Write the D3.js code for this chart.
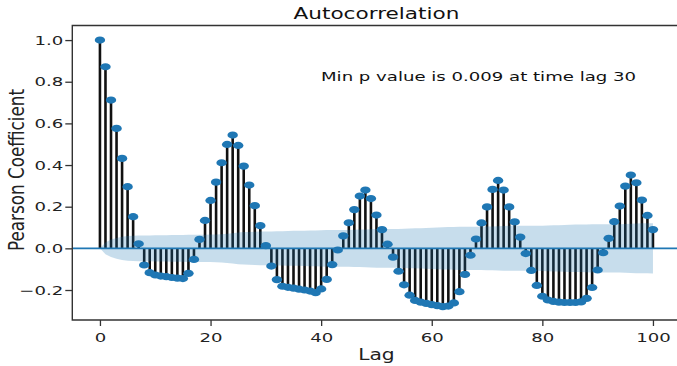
<!DOCTYPE html>
<html>
<head>
<meta charset="utf-8">
<script src="https://cdn.jsdelivr.net/npm/d3@7"></script>
<style>
  html, body { margin: 0; padding: 0; background: #fff; }
  svg { display: block; font-family: "DejaVu Sans", sans-serif; }
</style>
</head>
<body>
<svg id="chart" width="677" height="366"></svg>
<script>
// Autocorrelation coefficients for lags 0..100
const lags = d3.range(0, 101);
const acf = [
  1.0, 0.872, 0.712, 0.576, 0.432, 0.296, 0.152, 0.022, -0.08, -0.117,
  -0.128, -0.133, -0.136, -0.14, -0.143, -0.145, -0.12, -0.053, 0.043, 0.134,
  0.23, 0.318, 0.411, 0.499, 0.544, 0.494, 0.395, 0.304, 0.205, 0.109,
  0.013, -0.085, -0.15, -0.182, -0.187, -0.191, -0.196, -0.2, -0.205, -0.213,
  -0.195, -0.149, -0.078, -0.008, 0.06, 0.123, 0.186, 0.251, 0.28, 0.239,
  0.16, 0.09, 0.02, -0.042, -0.11, -0.175, -0.225, -0.25, -0.258, -0.264,
  -0.27, -0.275, -0.28, -0.277, -0.262, -0.208, -0.125, -0.033, 0.045, 0.122,
  0.199, 0.283, 0.326, 0.28, 0.199, 0.127, 0.054, -0.025, -0.106, -0.178,
  -0.23, -0.248, -0.255, -0.258, -0.26, -0.26, -0.26, -0.257, -0.24, -0.188,
  -0.104, -0.021, 0.048, 0.128, 0.203, 0.299, 0.352, 0.315, 0.232, 0.158,
  0.09
];
// Half-width of the 95% confidence band around zero, per lag
const confHalf = [
  0, 0.028, 0.042, 0.05, 0.056, 0.059, 0.061, 0.062, 0.062, 0.062,
  0.063, 0.063, 0.063, 0.064, 0.064, 0.064, 0.065, 0.065, 0.065, 0.065,
  0.066, 0.067, 0.068, 0.07, 0.073, 0.076, 0.078, 0.079, 0.08, 0.081,
  0.081, 0.081, 0.082, 0.082, 0.083, 0.084, 0.084, 0.085, 0.086, 0.086,
  0.087, 0.088, 0.088, 0.088, 0.088, 0.088, 0.089, 0.09, 0.091, 0.092,
  0.093, 0.093, 0.093, 0.093, 0.093, 0.094, 0.095, 0.096, 0.097, 0.098,
  0.099, 0.1, 0.101, 0.102, 0.103, 0.104, 0.104, 0.104, 0.104, 0.104,
  0.105, 0.105, 0.106, 0.107, 0.108, 0.108, 0.108, 0.108, 0.108, 0.108,
  0.109, 0.11, 0.111, 0.111, 0.112, 0.113, 0.114, 0.114, 0.115, 0.116,
  0.116, 0.116, 0.116, 0.116, 0.116, 0.117, 0.118, 0.119, 0.12, 0.12,
  0.121
];
const xTicks = [0, 20, 40, 60, 80, 100];
const yTicks = [-0.2, 0.0, 0.2, 0.4, 0.6, 0.8, 1.0];
const titleText = "Autocorrelation";
const noteText = "Min p value is 0.009 at time lag 30";
const xLabel = "Lag";
const yLabel = "Pearson Coefficient";

const blue = "#1f77b4";
const stretch = 1.45; // horizontal glyph stretch of the rendered figure

const svg = d3.select("#chart");
const plot = { left: 72.3, right: 680.6, top: 25.5, bottom: 320 };

const x = d3.scaleLinear().domain([-5, 105]).range([plot.left, plot.right]);
const y = d3.scaleLinear().domain([-0.344, 1.07]).range([plot.bottom, plot.top]);

const g = svg.append("g");

// Stems
g.append("g").selectAll("line").data(lags).join("line")
  .attr("x1", d => x(d)).attr("x2", d => x(d))
  .attr("y1", y(0)).attr("y2", d => y(acf[d]))
  .attr("stroke", "#111").attr("stroke-width", 2.6);

// Zero line
g.append("line")
  .attr("x1", plot.left).attr("x2", plot.right)
  .attr("y1", y(0)).attr("y2", y(0))
  .attr("stroke", blue).attr("stroke-width", 1.8);

// Markers
g.append("g").selectAll("ellipse").data(lags).join("ellipse")
  .attr("cx", d => x(d)).attr("cy", d => y(acf[d]))
  .attr("rx", 5.2).attr("ry", 3.6)
  .attr("fill", blue);

// Confidence band
const band = d3.area()
  .x(d => x(d))
  .y0(d => y(-confHalf[d]))
  .y1(d => y(confHalf[d]));
g.append("path").datum(lags)
  .attr("d", band)
  .attr("fill", blue).attr("fill-opacity", 0.25);

// Axes
const yAxis = d3.axisLeft(y).tickValues(yTicks).tickFormat(d3.format(".1f")).tickSize(7).tickPadding(0);
const xAxis = d3.axisBottom(x).tickValues(xTicks).tickFormat(d3.format("d")).tickSize(6).tickPadding(0);

const gy = svg.append("g").attr("transform", `translate(${plot.left},0)`).call(yAxis);
const gx = svg.append("g").attr("transform", `translate(0,${plot.bottom})`).call(xAxis);

[gx, gy].forEach(a => {
  a.select(".domain").remove();
  a.selectAll(".tick line").attr("stroke", "#333").attr("stroke-width", 1.3);
  a.selectAll("text").attr("font-size", 12.5).attr("fill", "#222")
    .attr("font-family", "DejaVu Sans");
});
gy.selectAll(".tick text")
  .attr("x", 0).attr("dy", null).attr("y", 0)
  .attr("dominant-baseline", "central")
  .attr("transform", `translate(-9,0) scale(${stretch},1)`);
gx.selectAll(".tick text")
  .attr("y", 0).attr("dy", null)
  .attr("transform", `translate(0,21.5) scale(${stretch},1)`);

// Spines (left, top, bottom; right lies just past the canvas edge)
const spine = svg.append("g").attr("stroke", "#333").attr("stroke-width", 1.4).attr("fill", "none");
spine.append("path").attr("d",
  `M${plot.right},${plot.top}H${plot.left}V${plot.bottom}H${plot.right}V${plot.top}`);

// Title
svg.append("text")
  .attr("transform", `translate(${(plot.left + plot.right) / 2},18.5) scale(1.44,1)`)
  .attr("text-anchor", "middle").attr("font-size", 15).attr("fill", "#111")
  .text(titleText);

// Annotation
svg.append("text")
  .attr("transform", `translate(321,81) scale(${stretch},1)`)
  .attr("font-size", 12.5).attr("fill", "#111")
  .text(noteText);

// Axis labels
svg.append("text")
  .attr("transform", `translate(${(plot.left + plot.right) / 2},360) scale(1.35,1)`)
  .attr("text-anchor", "middle").attr("font-size", 15).attr("fill", "#222")
  .text(xLabel);

svg.append("text")
  .attr("transform", `translate(23.5,170) scale(1.23,1) rotate(-90)`)
  .attr("text-anchor", "middle").attr("font-size", 16.8).attr("fill", "#222")
  .text(yLabel);
</script>
</body>
</html>
